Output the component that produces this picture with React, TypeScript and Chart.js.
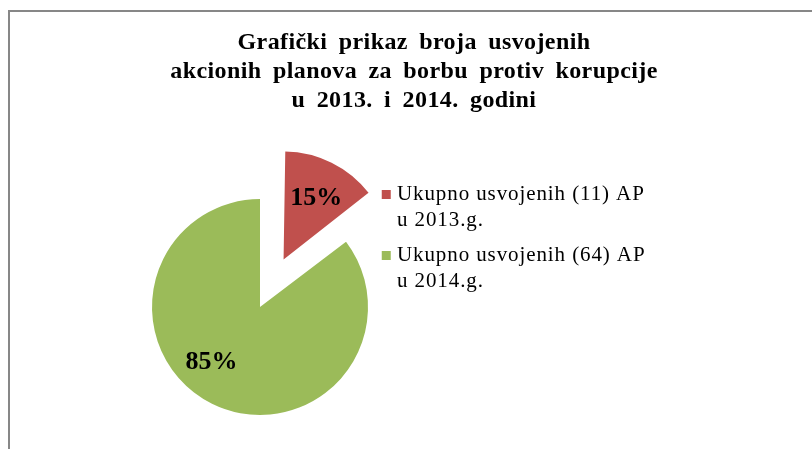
import React, { useEffect, useRef } from 'react';
import { Chart, registerables } from 'chart.js';

Chart.register(...registerables);

// ---------- data ----------
const TITLE_LINES = [
  'Grafički prikaz broja usvojenih',
  'akcionih planova za borbu protiv korupcije',
  'u 2013. i 2014. godini',
];
const CATEGORY_LABELS = [
  ['Ukupno usvojenih (11) AP', 'u 2013.g.'],
  ['Ukupno usvojenih (64) AP', 'u 2014.g.'],
];
const PLAN_COUNTS = [11, 64];
const SLICE_COLORS = ['#C0504D', '#9BBB59'];

// ---------- style / layout ----------
const W = 812;
const H = 449;
const SERIF = '"Liberation Serif", "Times New Roman", serif';

const PIE_CX = 260;
const PIE_CY = 307;
const PIE_R = 108;
const EXPLODE = 53; // visual explosion distance of first slice
const SLICE_OFFSETS = [EXPLODE * 4, 0]; // chart.js arc translates by offset/4

const LEG_FONT = 21;
const LEG_LH = 25.5;
const LEG_PAD = 10;
const LEG_BOX = 9;
const LEG_BOXW = 0.5;
const LEG_LS = '0.9px';
const LEG_TEXT_X = 397;
const LEG_FIRST_MID = 194.5;

const TITLE_FONT = 24;
const TITLE_X = 414;
const TITLE_Y0 = 42.5;
const TITLE_LH = 29;

const LABEL_FONT = 26;
const LABEL_RADIUS_FRAC = [0.646, 0.682];
const LABEL_ANGLE_SHIFT = [1.5, 14.7];

const spacingPlugin = {
  id: 'legendSpacing',
  beforeUpdate(chart: any) {
    chart.ctx.letterSpacing = LEG_LS;
  },
  beforeLayout(chart: any) {
    chart.ctx.letterSpacing = LEG_LS;
  },
  beforeDraw(chart: any) {
    chart.ctx.letterSpacing = LEG_LS;
  },
  // keep exploded slices at the same radius as the rest of the pie
  afterDatasetUpdate(chart: any, args: any) {
    args.meta.data.forEach((arc: any) => {
      const off = ((arc.options && arc.options.offset) || 0) / 4;
      const fix = 1 - Math.sin(Math.min(Math.PI, arc.circumference || 0));
      arc.outerRadius = arc.outerRadius - off * fix;
    });
  },
};

const titlePlugin = {
  id: 'blockTitle',
  afterDraw(chart: any) {
    const ctx = chart.ctx;
    ctx.save();
    ctx.letterSpacing = '0.4px';
    ctx.wordSpacing = '5px';
    ctx.font = `bold ${TITLE_FONT}px ${SERIF}`;
    ctx.fillStyle = '#000';
    ctx.textAlign = 'center';
    ctx.textBaseline = 'middle';
    TITLE_LINES.forEach((t, i) => ctx.fillText(t, TITLE_X, TITLE_Y0 + i * TITLE_LH));
    ctx.restore();
  },
};

const pctPlugin = {
  id: 'pctLabels',
  afterDatasetsDraw(chart: any) {
    const ctx = chart.ctx;
    const meta = chart.getDatasetMeta(0);
    const R = meta.controller.outerRadius;
    const total = PLAN_COUNTS.reduce((a, b) => a + b, 0);
    ctx.save();
    ctx.letterSpacing = '0px';
    ctx.wordSpacing = '0px';
    ctx.font = `bold ${LABEL_FONT}px ${SERIF}`;
    ctx.fillStyle = '#000';
    ctx.textAlign = 'center';
    ctx.textBaseline = 'middle';
    meta.data.forEach((arc: any, i: number) => {
      const { x, y, startAngle, endAngle } = arc.getProps(['x', 'y', 'startAngle', 'endAngle'], true);
      const mid = (startAngle + endAngle) / 2;
      const shift = (arc.options.offset || 0) / 4;
      const a = mid + (LABEL_ANGLE_SHIFT[i] * Math.PI) / 180;
      const r = R * LABEL_RADIUS_FRAC[i];
      const lx = x + Math.cos(mid) * shift + Math.cos(a) * r;
      const ly = y + Math.sin(mid) * shift + Math.sin(a) * r;
      ctx.fillText(Math.round((PLAN_COUNTS[i] / total) * 100) + '%', lx, ly);
    });
    ctx.restore();
  },
};

export default function App() {
  const ref = useRef<HTMLCanvasElement | null>(null);

  useEffect(() => {
    if (!ref.current) return;
    // measure legend text the way Chart.js does, to place the legend box
    const m = document.createElement('canvas').getContext('2d') as any;
    m.font = `${LEG_FONT}px ${SERIF}`;
    m.letterSpacing = LEG_LS;
    let textW = 0;
    CATEGORY_LABELS.forEach((lines) => {
      const longest = lines.reduce((a, b) => (a.length > b.length ? a : b));
      textW = Math.max(textW, m.measureText(longest).width);
    });
    const half = LEG_FONT / 2;
    const legLeft = LEG_TEXT_X - LEG_PAD - LEG_BOXW - half;
    const legendW = LEG_PAD + LEG_BOXW + half + textW + 10;
    const padL = 2 * PIE_CX - legLeft;
    const padR = W - legLeft - legendW;
    const padTop = LEG_FIRST_MID - half - LEG_PAD;
    const padBottom = H - (2 * PIE_CY - padTop);

    const chart = new Chart(ref.current, {
      type: 'pie',
      data: {
        labels: CATEGORY_LABELS as any,
        datasets: [
          {
            data: PLAN_COUNTS,
            backgroundColor: SLICE_COLORS,
            borderWidth: 0,
            offset: SLICE_OFFSETS,
            radius: PIE_R,
            clip: false,
          } as any,
        ],
      },
      options: {
        responsive: false,
        animation: false,
        events: [],
        layout: {
          padding: { left: padL, right: padR, top: padTop, bottom: padBottom },
        },
        plugins: {
          title: { display: false },
          tooltip: { enabled: false },
          legend: {
            display: true,
            position: 'right',
            align: 'start',
            maxWidth: 600,
            labels: {
              usePointStyle: true,
              pointStyle: 'rect',
              boxWidth: LEG_BOXW,
              boxHeight: LEG_BOX,
              padding: LEG_PAD,
              color: '#000',
              font: { family: SERIF, size: LEG_FONT, lineHeight: LEG_LH / LEG_FONT },
            },
          },
        },
      } as any,
      plugins: [spacingPlugin, titlePlugin, pctPlugin],
    });
    return () => chart.destroy();
  }, []);

  return (
    <div style={{ position: 'absolute', left: 0, top: 0, width: W, height: H, overflow: 'hidden', background: '#fff' }}>
      <div
        style={{
          position: 'absolute',
          left: 8,
          top: 10,
          right: -10,
          bottom: -10,
          borderLeft: '2px solid #878787',
          borderTop: '2px solid #878787',
        }}
      />
      <canvas
        ref={ref}
        width={W}
        height={H}
        style={{ position: 'absolute', left: 0, top: 0, width: W, height: H }}
      />
    </div>
  );
}
